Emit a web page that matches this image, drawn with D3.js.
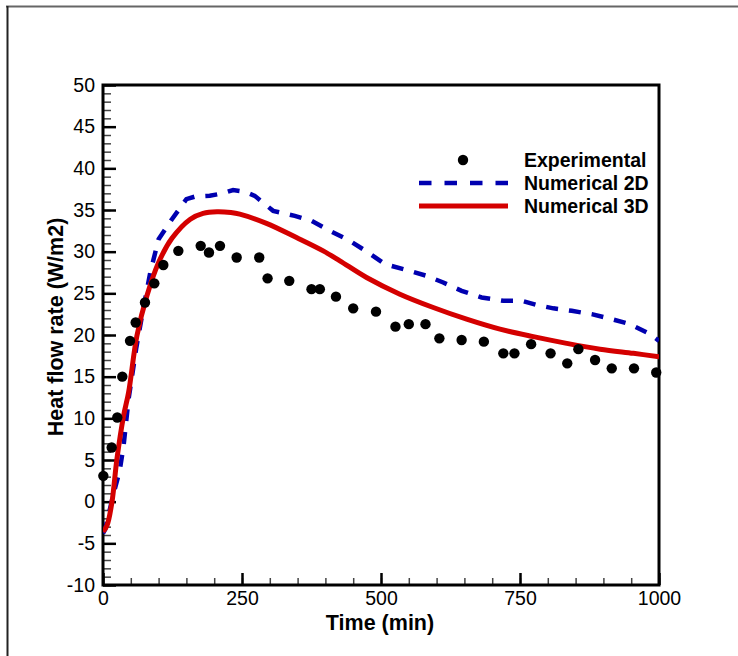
<!DOCTYPE html>
<html>
<head>
    <meta charset="utf-8">
    <script src="https://d3js.org/d3.v7.min.js"></script>
    <style>
        body { margin: 0; background: #fff; }
        text { font-family: "Liberation Sans", Arial, sans-serif; fill: #000; }
        .tick-label { font-size: 19.5px; }
        .axis-title { font-size: 21.5px; font-weight: bold; }
        .legend-text { font-size: 19.5px; font-weight: bold; }
        .line-2d { fill: none; stroke: #0000b0; stroke-width: 4.5; stroke-dasharray: 12,11; }
        .line-3d { fill: none; stroke: #d40000; stroke-width: 5; }
        .dot-exp { fill: #000; }
    </style>
</head>
<body>
    <svg width="738" height="656"></svg>
    <script>
        // experimental measurements
        const expTime = [0.6, 15.6, 25.7, 34.7, 48.6, 58.8, 75.5, 92.3, 108.5, 135.5, 175.7, 190.6, 210.4,
            240.4, 281, 296, 335, 375, 390, 419, 450, 491, 526, 550, 580, 605, 645, 685, 720, 740,
            770, 805, 835, 855, 885, 915, 955, 995];
        const expValue = [3.1, 6.5, 10.1, 15.0, 19.3, 21.5, 23.9, 26.2, 28.4, 30.1, 30.7, 29.9, 30.7,
            29.3, 29.3, 26.8, 26.5, 25.5, 25.5, 24.6, 23.2, 22.8, 21.0, 21.3, 21.3, 19.6, 19.4, 19.2, 17.8, 17.8,
            18.9, 17.8, 16.6, 18.3, 17.0, 16.0, 16.0, 15.5];

        // numerical 2D
        const num2dTime = [0, 4, 18, 30, 37, 46, 60, 72, 85, 100, 124, 150, 165, 192, 215, 234, 255, 273,
            306, 345, 375, 408, 444, 477, 507, 546, 582, 612, 645, 681, 720, 753, 780, 810, 843, 879,
            915, 948, 984, 1000];
        const num2dValue = [-3.8, -3.3, 0.7, 3.7, 6.7, 12.3, 18.5, 23, 27.5, 31.5, 33.9, 36.3, 36.6, 36.7,
            37.0, 37.4, 37.2, 36.7, 34.9, 34.3, 33.7, 32.5, 31.3, 29.9, 28.5, 27.8, 27.1, 26.3, 25.3,
            24.5, 24.1, 24.1, 23.6, 23.2, 22.9, 22.5, 21.9, 21.3, 20.1, 19.3];

        // numerical 3D
        const num3dTime = [0, 7, 16, 25, 37, 46, 61, 79, 100, 124, 157, 180, 205, 230, 246, 294, 348, 396,
            426, 474, 534, 594, 654, 714, 774, 834, 894, 954, 1000];
        const num3dValue = [-3.6, -2.9, -0.1, 5.1, 10.3, 13.1, 19.9, 24.7, 28.7, 31.6, 33.9, 34.6, 34.8,
            34.7, 34.5, 33.4, 31.7, 30.1, 28.9, 26.9, 24.9, 23.3, 21.9, 20.7, 19.8, 19.0, 18.3, 17.8, 17.4];

        const xTicks = [0, 250, 500, 750, 1000];
        const yTicks = [-10, -5, 0, 5, 10, 15, 20, 25, 30, 35, 40, 45, 50];
        const legendLabels = ['Experimental', 'Numerical 2D', 'Numerical 3D'];

        const margin = {top: 85, left: 103};
        const width = 556, height = 500;

        const root = d3.select('svg');

        // outer frame (top and left only visible)
        root.append('line').attr('x1', 6).attr('x2', 738).attr('y1', 6.5).attr('y2', 6.5)
            .attr('stroke', '#666').attr('stroke-width', 2);
        root.append('line').attr('x1', 7.5).attr('x2', 7.5).attr('y1', 6).attr('y2', 656)
            .attr('stroke', '#222').attr('stroke-width', 2);

        const svg = root.append('g')
            .attr('transform', `translate(${margin.left},${margin.top})`);

        const x = d3.scaleLinear().domain([0, 1000]).range([0, width]);
        const y = d3.scaleLinear().domain([-10, 50]).range([height, 0]);

        svg.append('defs').append('clipPath').attr('id', 'clip')
            .append('rect').attr('width', width).attr('height', height);

        const fmt = d => String(d);

        // minor ticks
        svg.append('g').attr('transform', `translate(0,${height})`)
            .call(d3.axisTop(x).tickValues(d3.range(0, 1001, 50)).tickSize(7).tickFormat(''))
            .call(g => g.select('.domain').remove())
            .call(g => g.selectAll('line').attr('stroke', '#444').attr('stroke-width', 1.5));
        svg.append('g')
            .call(d3.axisRight(y).tickValues(d3.range(-10, 51, 1)).tickSize(8).tickFormat(''))
            .call(g => g.select('.domain').remove())
            .call(g => g.selectAll('line').attr('stroke', '#444').attr('stroke-width', 1.5));

        // major ticks + labels
        svg.append('g').attr('transform', `translate(0,${height})`)
            .call(d3.axisBottom(x).tickValues(xTicks).tickSize(0).tickPadding(6).tickFormat(fmt))
            .call(g => g.select('.domain').remove())
            .call(g => g.selectAll('text').attr('class', 'tick-label').attr('font-size', null)
                .attr('font-family', null).attr('dy', '0.72em'));
        svg.append('g').attr('transform', `translate(0,${height})`)
            .call(d3.axisTop(x).tickValues(xTicks).tickSize(12).tickFormat(''))
            .call(g => g.select('.domain').remove())
            .call(g => g.selectAll('line').attr('stroke', '#000').attr('stroke-width', 2.5));

        svg.append('g')
            .call(d3.axisLeft(y).tickValues(yTicks).tickSize(0).tickPadding(8).tickFormat(fmt))
            .call(g => g.select('.domain').remove())
            .call(g => g.selectAll('text').attr('class', 'tick-label').attr('font-size', null)
                .attr('font-family', null));
        svg.append('g')
            .call(d3.axisRight(y).tickValues(yTicks).tickSize(13).tickFormat(''))
            .call(g => g.select('.domain').remove())
            .call(g => g.selectAll('line').attr('stroke', '#000').attr('stroke-width', 2.5));

        // plot frame
        svg.append('rect').attr('width', width).attr('height', height)
            .attr('fill', 'none').attr('stroke', '#000').attr('stroke-width', 3);

        const plot = svg.append('g').attr('clip-path', 'url(#clip)');

        const line = d3.line().x(d => x(d[0])).y(d => y(d[1]));

        plot.append('path').attr('class', 'line-2d')
            .attr('d', line(d3.zip(num2dTime, num2dValue)));
        plot.append('path').attr('class', 'line-3d')
            .attr('d', line.curve(d3.curveCatmullRom)(d3.zip(num3dTime, num3dValue)));

        svg.selectAll('.dot-exp')
            .data(d3.zip(expTime, expValue))
            .enter()
            .append('circle')
            .attr('class', 'dot-exp')
            .attr('cx', d => x(d[0]))
            .attr('cy', d => y(d[1]))
            .attr('r', 5.2);

        // axis titles
        root.append('text').attr('class', 'axis-title')
            .attr('x', 380).attr('y', 630).attr('text-anchor', 'middle')
            .text('Time (min)');
        root.append('text').attr('class', 'axis-title')
            .attr('transform', 'translate(63,327) rotate(-90)').attr('text-anchor', 'middle')
            .text('Heat flow rate (W/m2)');

        // legend
        const legend = root.append('g');
        legendLabels.forEach((label, i) => {
            const ly = 160 + i * 23;
            if (i === 0) {
                legend.append('circle').attr('class', 'dot-exp').attr('cx', 463).attr('cy', ly).attr('r', 5.2);
            } else {
                legend.append('line').attr('class', i === 1 ? 'line-2d' : 'line-3d')
                    .attr('x1', 419).attr('x2', 508).attr('y1', ly).attr('y2', ly)
                    .style('stroke-dasharray', i === 1 ? '12.5,13' : null);
            }
            legend.append('text').attr('class', 'legend-text')
                .attr('x', 524).attr('y', ly).attr('dy', '0.36em')
                .text(label);
        });
    </script>
</body>
</html>
